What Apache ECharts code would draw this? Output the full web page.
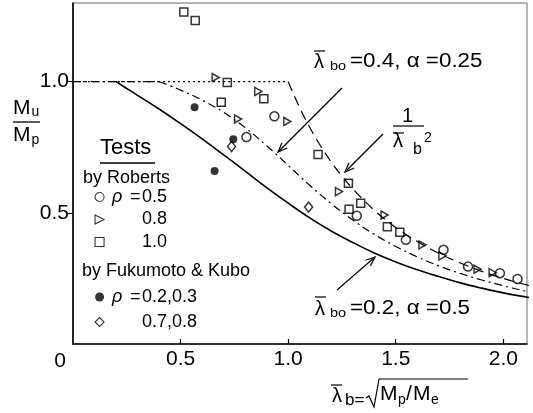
<!DOCTYPE html>
<html>
<head>
<meta charset="utf-8">
<script src="https://cdn.jsdelivr.net/npm/echarts@6/dist/echarts.min.js"></script>
<style>
html,body{margin:0;padding:0;background:#fff}
#chart{width:533px;height:413px}
</style>
</head>
<body>
<div id="chart"></div>
<script>
// Lateral-torsional buckling strength: Mu/Mp against modified slenderness.
const FONT = 'Liberation Sans, Arial, sans-serif';

// Design curve, lambda_bo = 0.2, alpha = 0.5 (solid)
const lamSolid = [0.2,0.25,0.3,0.4,0.5,0.6,0.7,0.8,0.9,1.0,1.1,1.2,1.3,1.4,1.5,1.6,1.7,1.8,1.9,2.0,2.1,2.2];
const muSolid  = [1.000,0.974,0.948,0.896,0.840,0.782,0.721,0.659,0.596,0.537,0.481,0.431,0.387,0.347,0.313,0.283,0.257,0.233,0.213,0.195,0.180,0.166];

// Design curve, lambda_bo = 0.4, alpha = 0.25 (dash-dot)
const lamDashDot = [0.4,0.45,0.5,0.6,0.7,0.8,0.9,1.0,1.1,1.2,1.3,1.4,1.5,1.6,1.7,1.8,1.9,2.0,2.1,2.2];
const muDashDot  = [1.000,0.985,0.968,0.930,0.883,0.825,0.756,0.681,0.605,0.535,0.473,0.418,0.372,0.332,0.298,0.269,0.244,0.222,0.202,0.185];
const lamDashDotFlat = [0, 0.4];
const muDashDotFlat  = [1.0, 1.0];

// Elastic buckling 1/lambda^2 (dashed) with plastic plateau (dotted)
const lamElastic = [1.0,1.05,1.1,1.15,1.2,1.25,1.3,1.4,1.5,1.6,1.7,1.8,1.9,2.0,2.1,2.2];
const muElastic  = [1.000,0.907,0.826,0.756,0.694,0.640,0.592,0.510,0.444,0.391,0.346,0.309,0.277,0.250,0.227,0.207];
const lamPlateau = [0, 1.0];
const muPlateau  = [1.0, 1.0];

// Tests by Roberts
const robRho05Lam = [0.806,0.936,1.319,1.547,1.722,1.836,1.984,2.066];
const robRho05Mu  = [0.789,0.868,0.489,0.397,0.359,0.295,0.270,0.248];
const robRho08Lam = [0.663,0.767,0.861,0.996,1.236,1.448,1.624,1.717,1.880,1.950];
const robRho08Mu  = [1.016,0.858,0.963,0.848,0.581,0.492,0.378,0.336,0.285,0.272];
const robRho10Lam = [0.515,0.568,0.689,0.717,0.887,1.139,1.280,1.283,1.337,1.461,1.519];
const robRho10Mu  = [1.266,1.233,0.922,0.997,0.935,0.722,0.613,0.514,0.537,0.447,0.426];

// Tests by Fukumoto & Kubo
const fkLowLam  = [0.565,0.658,0.745];
const fkLowMu   = [0.903,0.660,0.781];
const fkHighLam = [0.737,1.095];
const fkHighMu  = [0.753,0.522];

// Axis ticks
const xTicks = [0.5, 1.0, 1.5, 2.0];
const yTicks = [0.5, 1.0];

// Legend entries
const legendRoberts  = ['ρ =0.5', '0.8', '1.0'];
const legendFukumoto = ['ρ =0.2,0.3', '0.7,0.8'];
const filledEntries  = ['ρ =0.2,0.3'];

// right-pointing open triangle
const TRI_RIGHT = 'path://M0,0L10,5L0,10Z';

const zip = (xs, ys) => xs.map((x, i) => [x, ys[i]]);

function lineSeries(name, xs, ys, type, width) {
  return {
    name, type: 'line', data: zip(xs, ys), symbol: 'none', smooth: 0.4,
    clip: true, silent: true, z: 2,
    lineStyle: { color: '#000', width: width, type: type }
  };
}
function scatterSeries(name, xs, ys, symbol, size, filled) {
  return {
    name, type: 'scatter', data: zip(xs, ys), symbol, symbolSize: size, z: 5,
    itemStyle: filled ? { color: '#000' }
                      : { color: 'rgba(255,255,255,0)', borderColor: '#000', borderWidth: 1.5 }
  };
}

// Annotation helpers
function txt(x, y, text, size, extra) {
  return Object.assign({
    type: 'text', x, y, silent: true, z: 20,
    style: { text, fontSize: size, fontFamily: FONT, fill: '#000',
             align: 'left', verticalAlign: 'middle', textAlign: 'left', textVerticalAlign: 'middle' }
  }, extra || {});
}
function seg(x1, y1, x2, y2, w) {
  return { type: 'line', silent: true, z: 20, shape: { x1, y1, x2, y2 },
           style: { stroke: '#000', lineWidth: w || 1.2 } };
}
function arrow(x1, y1, x2, y2) {
  const a = Math.atan2(y2 - y1, x2 - x1), h = 10, s = 0.38;
  return [
    seg(x1, y1, x2, y2, 1.2),
    { type: 'polyline', silent: true, z: 20,
      shape: { points: [[x2 - h * Math.cos(a - s), y2 - h * Math.sin(a - s)], [x2, y2],
                        [x2 - h * Math.cos(a + s), y2 - h * Math.sin(a + s)]] },
      style: { stroke: '#000', lineWidth: 1.2, fill: null } }
  ];
}

const legendRich = {
  g: { fontFamily: FONT, fontSize: 18, fontStyle: 'italic', width: 18, padding: [0, 0, 0, 3], lineHeight: 19, color: '#000' },
  e: { fontFamily: FONT, fontSize: 18, width: 12, lineHeight: 19, color: '#000' },
  s: { fontFamily: FONT, fontSize: 18, width: 33, lineHeight: 19 },
  v: { fontFamily: FONT, fontSize: 18, lineHeight: 19, color: '#000' }
};
function legendFmt(name) {
  const m = name.match(/^ρ =(.*)$/);
  return m ? '{g|ρ}{e|=}{v|' + m[1] + '}' : '{s| }{v|' + name + '}';
}
function legendBlock(names, top, gap) {
  return {
    data: names.map(n => ({
      name: n,
      itemStyle: filledEntries.includes(n)
        ? { color: '#000', borderWidth: 0 }
        : { color: 'rgba(255,255,255,0)', borderColor: '#000', borderWidth: 1.1 }
    })),
    orient: 'vertical', left: 94.5, top, padding: 0, itemGap: gap,
    itemWidth: 9, itemHeight: 9, selectedMode: false,
    textStyle: { fontFamily: FONT, fontSize: 18, color: '#000', lineHeight: 19, rich: legendRich },
    formatter: legendFmt
  };
}

const sx = 1.12;
const graphics = [
  // origin label
  txt(60, 361, '0', 21, { style: { text: '0', fontSize: 21, fontFamily: FONT, fill: '#000', align: 'center', verticalAlign: 'middle', textAlign: 'center', textVerticalAlign: 'middle' } }),
  // y-axis title Mu / Mp
  txt(13, 108, 'M', 21), txt(31.5, 112, 'u', 14),
  seg(13, 122, 40, 122, 1.3),
  txt(13, 135, 'M', 21), txt(31.5, 140, 'p', 14),
  // x-axis title
  txt(332, 396, 'λ', 20), seg(331, 385, 342, 385, 1.2),
  txt(345, 400, 'b=', 17),
  { type: 'polyline', silent: true, z: 20,
    shape: { points: [[366, 398], [369, 396], [374, 407], [379, 379], [468, 379]] },
    style: { stroke: '#000', lineWidth: 1.2, fill: null } },
  txt(380, 394, 'M', 21), txt(398, 400, 'p', 14),
  txt(406, 394, '/', 21), txt(413, 394, 'M', 21), txt(431, 400, 'e', 14),
  // legend headings
  txt(100, 148, 'Tests', 22), seg(100, 163, 155, 163, 1.3),
  txt(83, 178, 'by Roberts', 18),
  txt(82, 271, 'by Fukumoto & Kubo', 18),
  // lambda_bo = 0.4, alpha = 0.25
  txt(314, 62, 'λ', 20), seg(314, 51, 325, 51, 1.2),
  txt(330, 66.5, 'bo', 13, { scaleX: sx }),
  txt(350, 61.5, '=0.4, α =0.25', 20, { scaleX: sx }),
  ...arrow(342, 88, 278, 152),
  // 1 / lambda_b^2
  txt(402, 116, '1', 20),
  seg(393, 126, 424, 126, 1.2),
  txt(393, 141, 'λ', 20), seg(393, 133, 404, 133, 1.2),
  txt(413, 150, 'b', 16), txt(424, 138, '2', 14),
  ...arrow(383, 134, 345, 172),
  // lambda_bo = 0.2, alpha = 0.5
  txt(315, 309, 'λ', 20), seg(315, 297, 326, 297, 1.2),
  txt(330, 313.5, 'bo', 13, { scaleX: sx }),
  txt(350, 308.5, '=0.2, α =0.5', 20, { scaleX: sx }),
  ...arrow(337, 290, 375, 257)
];

const chart = echarts.init(document.getElementById('chart'), null, { renderer: 'canvas' });
chart.setOption({
  backgroundColor: '#fff',
  animation: false,
  grid: { left: 73, right: 6, top: 3, bottom: 69, show: true, borderColor: '#6a6a6a', borderWidth: 1 },
  xAxis: {
    type: 'value', min: 0, max: 2.11,
    axisLine: { show: true, onZero: false, lineStyle: { color: '#000', width: 1.6 } },
    axisTick: { show: true, inside: true, length: 5, customValues: xTicks, lineStyle: { color: '#000', width: 1.2 } },
    axisLabel: { customValues: xTicks, formatter: v => v.toFixed(1), fontFamily: FONT, fontSize: 21, color: '#000', margin: 5 },
    splitLine: { show: false }
  },
  yAxis: {
    type: 'value', min: 0, max: 1.30,
    axisLine: { show: true, onZero: false, lineStyle: { color: '#000', width: 1.6 } },
    axisTick: { show: true, inside: false, length: 5, customValues: yTicks, lineStyle: { color: '#000', width: 1.2 } },
    axisLabel: { customValues: yTicks, formatter: v => v.toFixed(1), fontFamily: FONT, fontSize: 21, color: '#000', margin: 4 },
    splitLine: { show: false }
  },
  legend: [legendBlock(legendRoberts, 187.5, 3.5), legendBlock(legendFukumoto, 287.5, 6)],
  series: [
    lineSeries('plateau', lamPlateau, muPlateau, [2, 3], 1.2),
    lineSeries('elastic', lamElastic, muElastic, [10, 6], 1.2),
    lineSeries('dashdot-flat', lamDashDotFlat, muDashDotFlat, [8, 4, 2, 4], 1.2),
    lineSeries('dashdot', lamDashDot, muDashDot, [8, 4, 2, 4], 1.2),
    lineSeries('solid', lamSolid, muSolid, 'solid', 1.6),
    scatterSeries('ρ =0.5', robRho05Lam, robRho05Mu, 'circle', 9, false),
    scatterSeries('0.8', robRho08Lam, robRho08Mu, TRI_RIGHT, [7, 8], false),
    scatterSeries('1.0', robRho10Lam, robRho10Mu, 'rect', 8, false),
    scatterSeries('ρ =0.2,0.3', fkLowLam, fkLowMu, 'circle', 8, true),
    scatterSeries('0.7,0.8', fkHighLam, fkHighMu, 'diamond', [8, 10], false)
  ],
  graphic: graphics
});
</script>
</body>
</html>
